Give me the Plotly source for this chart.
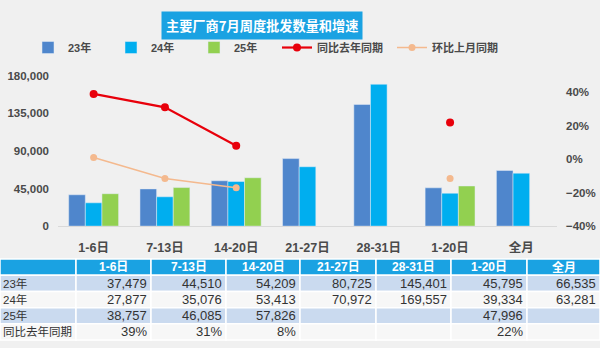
import plotly.graph_objects as go

# Weekly periods of July
periods = ["1-6日", "7-13日", "14-20日", "21-27日", "28-31日", "1-20日", "全月"]

# Wholesale volumes by year
vol_23 = [37479, 44510, 54209, 80725, 145401, 45795, 66535]
vol_24 = [27877, 35076, 53413, 70972, 169557, 39334, 63281]
vol_25 = [38757, 46085, 57826, None, None, 47996, None]

# Growth rates
yoy = [0.39, 0.31, 0.08, None, None, 0.22, None]          # 同比去年同期
mom = [0.01, -0.115, -0.17, None, None, -0.115, None]     # 环比上月同期

row_labels = ["23年", "24年", "25年", "同比去年同期"]
left_ticks = [0, 45000, 90000, 135000, 180000]
right_ticks = [-0.4, -0.2, 0.0, 0.2, 0.4]

BG = "#f0f0f0"
C23 = "#4f86cc"
C24 = "#00aeef"
C25 = "#92d050"
CRED = "#e8000b"
CORG = "#f4b98e"
CHEAD = "#1aa2e2"
CROW = "#cadaef"
CROW2 = "#f7f7f7"
TXT = "#4a4a4a"
FONT = "Liberation Sans, Noto Sans CJK SC, sans-serif"

W, H = 600, 348

fig = go.Figure()

fig.add_trace(go.Bar(x=periods, y=vol_23, name="23年", marker_color=C23,
                     legend="legend"))
fig.add_trace(go.Bar(x=periods, y=vol_24, name="24年", marker_color=C24,
                     legend="legend2"))
fig.add_trace(go.Bar(x=periods, y=vol_25, name="25年", marker_color=C25,
                     legend="legend3"))
fig.add_trace(go.Scatter(x=periods, y=yoy, name="同比去年同期", yaxis="y2",
                         mode="lines+markers",
                         line=dict(color=CRED, width=2.2),
                         marker=dict(color=CRED, size=8),
                         legend="legend4"))
fig.add_trace(go.Scatter(x=periods, y=mom, name="环比上月同期", yaxis="y2",
                         mode="lines+markers",
                         line=dict(color=CORG, width=1.5),
                         marker=dict(color=CORG, size=7),
                         legend="legend5"))


def fmt_int(v):
    return "" if v is None else f"{v:,}"


def fmt_pct(v):
    return "" if v is None else f"{round(v * 100):d}%"


# ---- data table under the chart (paper coordinates, pixel layout) ----
col_edges = [0, 76, 151, 226, 300, 376, 451, 527, 600]
table_top = 262
row_h = 16.8

table_rows = [
    [fmt_int(v) for v in vol_23],
    [fmt_int(v) for v in vol_24],
    [fmt_int(v) for v in vol_25],
    [fmt_pct(v) for v in yoy],
]
row_fills = [CROW, CROW2, CROW, CROW2]


def px(x):
    return x / W


def py(y):
    return 1 - y / H


shapes = []
annotations = []


def cell(x0, x1, y0, y1, fill):
    shapes.append(dict(type="rect", xref="paper", yref="paper",
                       x0=px(x0), x1=px(x1), y0=py(y1), y1=py(y0),
                       fillcolor=fill, line=dict(color="white", width=1.5),
                       layer="below"))


def text(s, x, y, anchor, size, color, bold=False):
    annotations.append(dict(text=f"<b>{s}</b>" if bold else s,
                            x=px(x), y=py(y), xref="paper", yref="paper",
                            xanchor=anchor, yanchor="middle", showarrow=False,
                            font=dict(family=FONT, size=size, color=color)))


# header row
y0, y1 = table_top, table_top + row_h
for c in range(len(col_edges) - 1):
    cell(col_edges[c], col_edges[c + 1], y0, y1, CHEAD)
for c, label in enumerate(periods):
    xm = (col_edges[c + 1] + col_edges[c + 2]) / 2
    text(label, xm, (y0 + y1) / 2, "center", 12, "white", bold=True)

# body rows
for r, (label, vals) in enumerate(zip(row_labels, table_rows)):
    y0 = table_top + row_h * (r + 1)
    y1 = y0 + row_h
    for c in range(len(col_edges) - 1):
        cell(col_edges[c], col_edges[c + 1], y0, y1, row_fills[r])
    text(label, 1, (y0 + y1) / 2, "left", 11.5, "#333333")
    for c, v in enumerate(vals):
        if v:
            text(v, col_edges[c + 2] - 2, (y0 + y1) / 2, "right", 13,
                 "#333333")

# chart title
annotations.append(dict(
    text="<b>主要厂商7月周度批发数量和增速</b>",
    x=px(261.5), y=py(20.5), xref="paper", yref="paper",
    xanchor="center", yanchor="middle", showarrow=False,
    bgcolor=CHEAD, borderpad=4,
    font=dict(family="Noto Sans CJK SC", size=13.2, color="white")))

legend_common = dict(orientation="h", yanchor="middle", xanchor="left",
                     bgcolor="rgba(0,0,0,0)", borderwidth=0,
                     font=dict(family=FONT, size=11, color=TXT, weight="bold"),
                     itemwidth=30)
legend_x = [66, 149, 232, 315, 430]
layout_legends = {}
for k, tx in enumerate(legend_x):
    key = "legend" if k == 0 else f"legend{k + 1}"
    layout_legends[key] = dict(legend_common, x=px(tx - 38), y=py(43))

fig.update_layout(
    width=W, height=H,
    margin=dict(l=0, r=0, t=0, b=0),
    paper_bgcolor=BG, plot_bgcolor=BG,
    barmode="group", bargap=0.3, bargroupgap=0,
    font=dict(family=FONT, color=TXT),
    showlegend=True,
    xaxis=dict(domain=[px(58), px(557)], type="category",
               showline=True, linecolor="#d9d9d9", linewidth=1,
               showgrid=False, ticks="",
               tickfont=dict(size=12.5, color=TXT, weight="bold"),
               ticklabelstandoff=10),
    yaxis=dict(domain=[py(228), py(72)],
               range=[0, 180000], tickvals=left_ticks, tickformat=",",
               showgrid=False, zeroline=False, ticks="",
               tickfont=dict(size=11.5, color=TXT, weight="bold"),
               ticklabelstandoff=8),
    yaxis2=dict(overlaying="y", side="right",
                range=[-0.4, 0.5], tickvals=right_ticks, tickformat=".0%",
                showgrid=False, zeroline=False, ticks="",
                tickfont=dict(size=11.5, color=TXT, weight="bold"),
                ticklabelstandoff=8),
    shapes=shapes,
    annotations=annotations,
    **layout_legends,
)

fig.write_html("out.html")
